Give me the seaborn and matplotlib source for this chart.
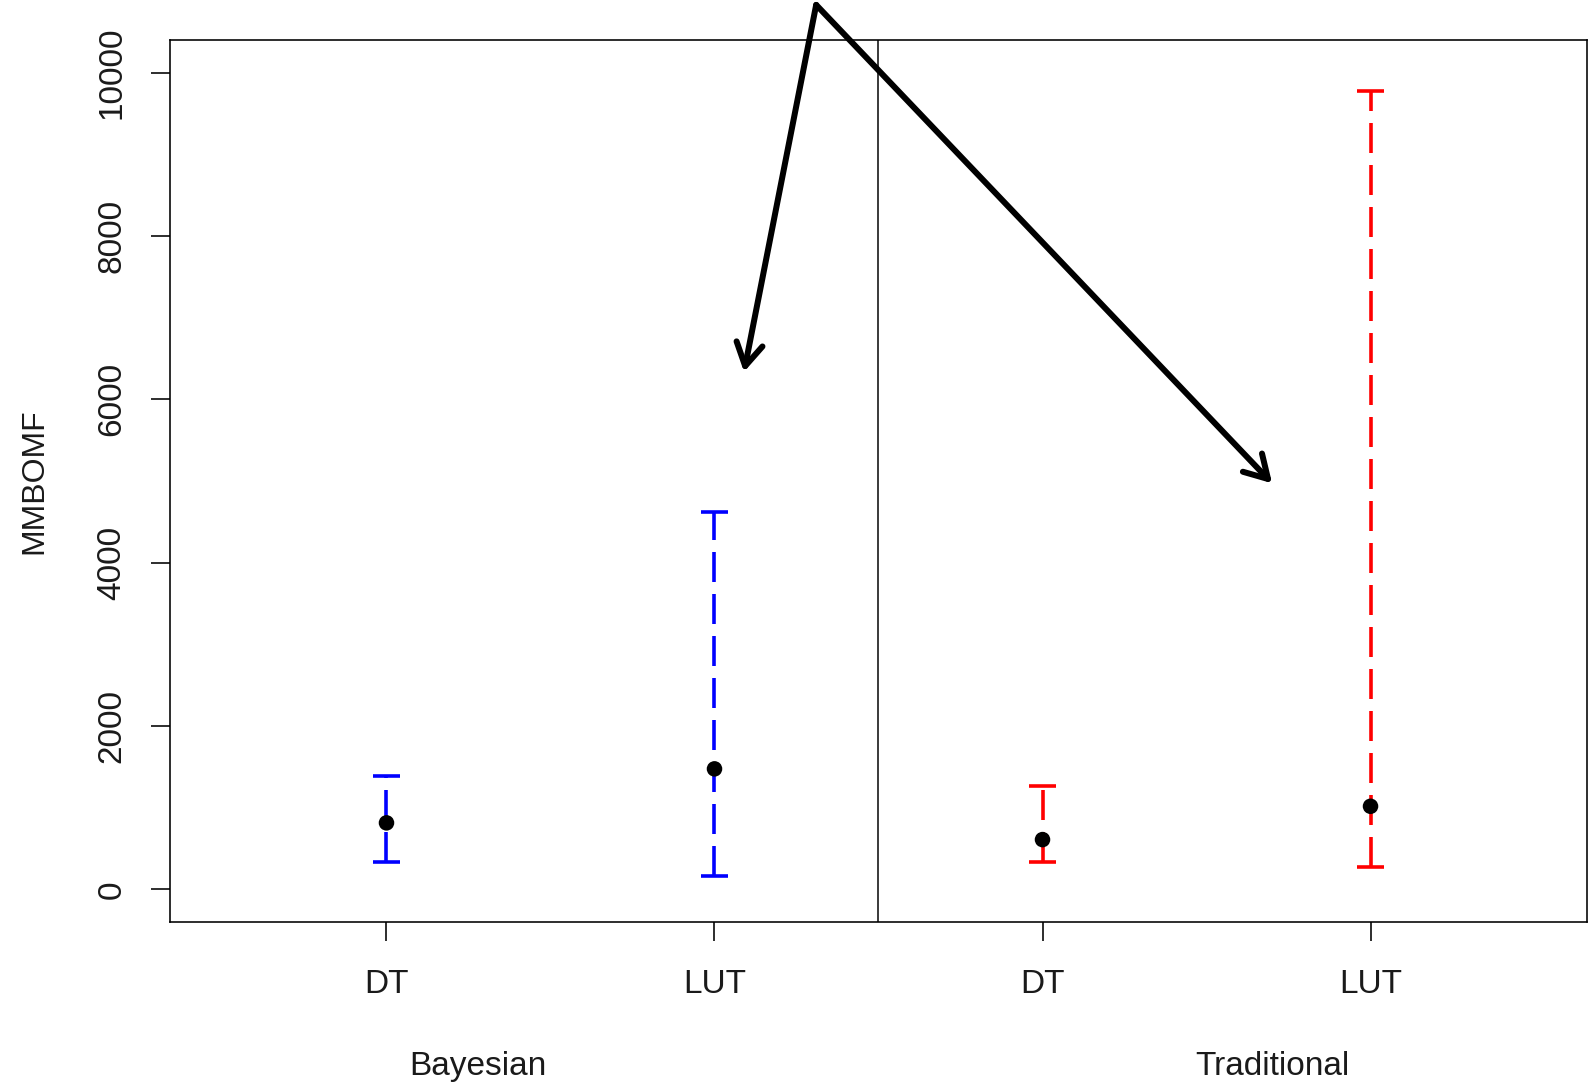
import numpy as np
import pandas as pd
import matplotlib
matplotlib.use("Agg")
import matplotlib.pyplot as plt
import matplotlib.transforms as mtransforms
import seaborn as sns

# ---- data ----
groups = ["Bayesian", "Bayesian", "Traditional", "Traditional"]
methods = ["DT", "LUT", "DT", "LUT"]
means = [814, 1475, 609, 1017]
lower = [340, 168, 340, 270]
upper = [1385, 4620, 1262, 9779]
group_colors = {"Bayesian": "#0000FF", "Traditional": "#FF0000"}
y_ticks = [0, 2000, 4000, 6000, 8000, 10000]
y_label = "MMBOMF"
# annotation arrows (data coords): start -> end
arrow_start = (2.31, 10830)
arrow_ends = [(2.09, 6336), (3.70, 4972)]
group_label_x = {"Bayesian": 1.28, "Traditional": 3.70}

sns.set_theme(style="ticks")
plt.rcParams["font.family"] = ["Liberation Sans", "DejaVu Sans"]
plt.rcParams["lines.scale_dashes"] = False

df = pd.DataFrame({"group": groups, "method": methods, "mean": means,
                   "lower": lower, "upper": upper})
df["pos"] = np.arange(1, len(df) + 1)

W, H = 1594, 1089
fig = plt.figure(figsize=(W / 100, H / 100), dpi=100)
ax = fig.add_axes([170 / W, 1 - 922 / H, (1587 - 170) / W, (922 - 40) / H])

px = 72 / 100  # points per pixel
for _, r in df.iterrows():
    c = group_colors[r["group"]]
    ax.plot([r["pos"], r["pos"]], [r["lower"], r["upper"]], color=c,
            lw=3.6 * px, linestyle=(0, (30 * px, 12 * px)), solid_capstyle="butt",
            dash_capstyle="butt", zorder=2)
    ax.hlines([r["lower"], r["upper"]], r["pos"] - 0.04, r["pos"] + 0.04,
              color=c, lw=3.6 * px, zorder=2)

sns.scatterplot(data=df, x="pos", y="mean", color="black", s=125,
                edgecolor="none", ax=ax, zorder=3, legend=False)

ax.axvline(2.5, color="black", lw=1.5 * px, zorder=1)

ax.set_xlim(0.34, 4.66)
ax.set_ylim(-400, 10400)
ax.set_xticks(df["pos"])
ax.set_xticklabels(methods)
ax.set_yticks(y_ticks)
ax.set_yticklabels([str(v) for v in y_ticks], rotation=90, va="center")
ax.set_xlabel("")
ax.set_ylabel("")
for s in ax.spines.values():
    s.set_visible(True)
    s.set_color("black")
    s.set_linewidth(1.6 * px)
ax.tick_params(axis="both", direction="out", length=19 * px, width=1.6 * px,
               color="black", labelsize=24, labelcolor="#1a1a1a")
ax.tick_params(axis="x", pad=20.5)
ax.tick_params(axis="y", pad=17)

fig.text(34 / W, 1 - 481 / H, y_label, rotation=90, ha="center", va="center",
         fontsize=23, color="#1a1a1a")

trans = mtransforms.blended_transform_factory(ax.transData, fig.transFigure)
for g, gx in group_label_x.items():
    ax.text(gx, 1 - 1075 / H, g, transform=trans, ha="center", va="baseline",
            fontsize=24, color="#1a1a1a")

for end in arrow_ends:
    ax.annotate("", xy=end, xytext=arrow_start, textcoords="data",
                annotation_clip=False,
                arrowprops=dict(arrowstyle="->,head_length=0.65,head_width=0.38",
                                lw=6 * px, color="black", shrinkA=0, shrinkB=0,
                                mutation_scale=25, capstyle="round",
                                joinstyle="round"))

fig.savefig("out.png", dpi=100, facecolor="white")
